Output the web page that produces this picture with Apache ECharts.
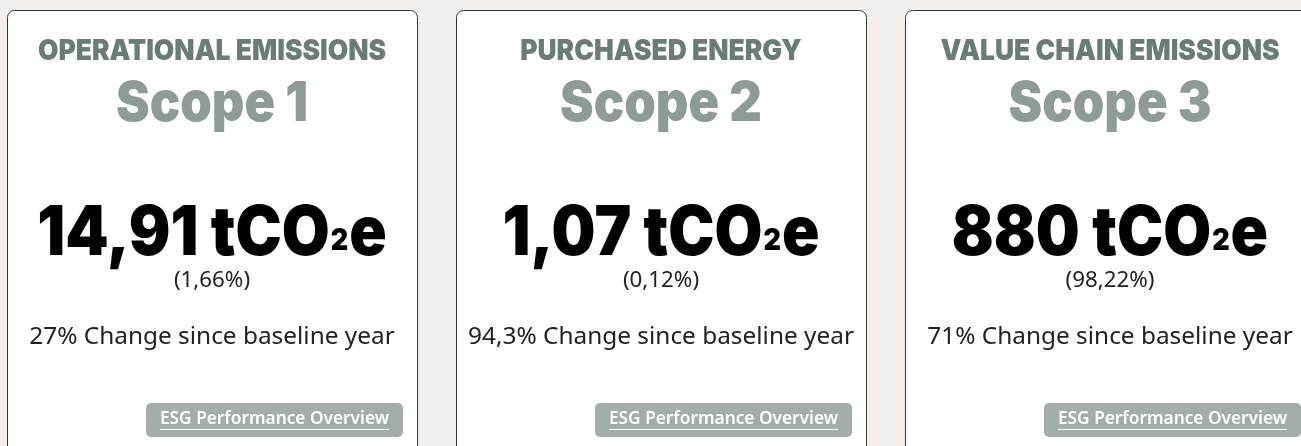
<!DOCTYPE html>
<html>
<head>
<meta charset="utf-8">
<script src="https://cdn.jsdelivr.net/npm/echarts@6/dist/echarts.min.js"></script>
<style>
html, body { margin: 0; padding: 0; background: #f1eeeb; }
#main { width: 1301px; height: 446px; }
</style>
</head>
<body>
<div id="main"></div>
<script>
// card data
var headers = ['OPERATIONAL EMISSIONS', 'PURCHASED ENERGY', 'VALUE CHAIN EMISSIONS'];
var scopes = ['Scope 1', 'Scope 2', 'Scope 3'];
var amounts = ['14,91', '1,07', '880'];
var shares = ['1,66%', '0,12%', '98,22%'];
var changes = ['27%', '94,3%', '71%'];
var linkLabel = 'ESG Performance Overview';

var chart = echarts.init(document.getElementById('main'));

var heavy = 'Inter, "Noto Sans", sans-serif';
var plain = '"Noto Sans", "Open Sans", sans-serif';

// pick a font size so that the text gets about the width seen on the card
var ctx = document.createElement('canvas').getContext('2d');
function fitSize(text, weight, family, targetW) {
    ctx.font = weight + ' 100px ' + family;
    return Math.round(100 * targetW / ctx.measureText(text).width * 10) / 10;
}
function textW(text, font) {
    ctx.font = font;
    return ctx.measureText(text).width;
}

var headSize = fitSize(headers[0], 900, heavy, 348);
var scopeSize = fitSize(scopes[0], 900, heavy, 192);
var numSize = fitSize(amounts[0] + ' tCOe', 900, heavy, 330);
var subSize = Math.round(numSize * 0.44);
var shareSize = fitSize('(' + shares[0] + ')', 400, plain, 76);
var changeSize = fitSize(changes[1] + ' Change since baseline year', 400, plain, 386);
var linkSize = fitSize(linkLabel, 600, plain, 229);
var linkFont = '600 ' + linkSize + 'px ' + plain;
var linkW = textW(linkLabel, linkFont);

// heavy titles are a bit taller than Inter at the same width
var stretch = 1.1;

var els = [];
for (var i = 0; i < headers.length; i++) {
    var left = 7 + i * 449;
    var cx = left + 205;
    // card
    els.push({
        type: 'rect',
        shape: { x: left + 0.5, y: 10.5, width: 410, height: 470, r: 7 },
        style: { fill: '#ffffff', stroke: '#30373a', lineWidth: 1 }
    });
    els.push({
        type: 'text', x: cx, y: 51, scaleY: stretch,
        style: { text: headers[i], fill: '#687d76', font: '900 ' + headSize + 'px ' + heavy, textAlign: 'center', textVerticalAlign: 'middle' }
    });
    els.push({
        type: 'text', x: cx, y: 104, scaleY: stretch,
        style: { text: scopes[i], fill: '#8d9c97', font: '900 ' + scopeSize + 'px ' + heavy, textAlign: 'center', textVerticalAlign: 'middle' }
    });
    els.push({
        type: 'text', x: cx, y: 235, scaleY: stretch,
        style: {
            text: '{b|' + amounts[i] + ' tCO}{s|2}{b|e}',
            textAlign: 'center', textVerticalAlign: 'middle',
            rich: {
                b: { fontFamily: heavy, fontWeight: 900, fontSize: numSize, fill: '#000' },
                s: { fontFamily: heavy, fontWeight: 900, fontSize: subSize, fill: '#000', padding: [11, 1, 0, 1] }
            }
        }
    });
    els.push({
        type: 'text', x: cx, y: 281,
        style: { text: '(' + shares[i] + ')', fill: '#222', font: shareSize + 'px ' + plain, textAlign: 'center', textVerticalAlign: 'middle' }
    });
    els.push({
        type: 'text', x: cx, y: 337,
        style: { text: changes[i] + ' Change since baseline year', fill: '#222', font: changeSize + 'px ' + plain, textAlign: 'center', textVerticalAlign: 'middle' }
    });
    // link button
    var bx = left + 139;
    els.push({
        type: 'rect',
        shape: { x: bx, y: 403, width: 257, height: 34, r: 5 },
        style: { fill: '#a3adaa' }
    });
    els.push({
        type: 'text', x: bx + 128.5, y: 419,
        style: { text: linkLabel, fill: '#ffffff', font: linkFont, textAlign: 'center', textVerticalAlign: 'middle' }
    });
    els.push({
        type: 'line',
        shape: { x1: bx + 128.5 - linkW / 2, y1: 429.5, x2: bx + 128.5 + linkW / 2, y2: 429.5 },
        style: { stroke: '#ffffff', lineWidth: 1 }
    });
}

chart.setOption({
    backgroundColor: '#f1eeeb',
    graphic: { elements: els }
});
</script>
</body>
</html>
